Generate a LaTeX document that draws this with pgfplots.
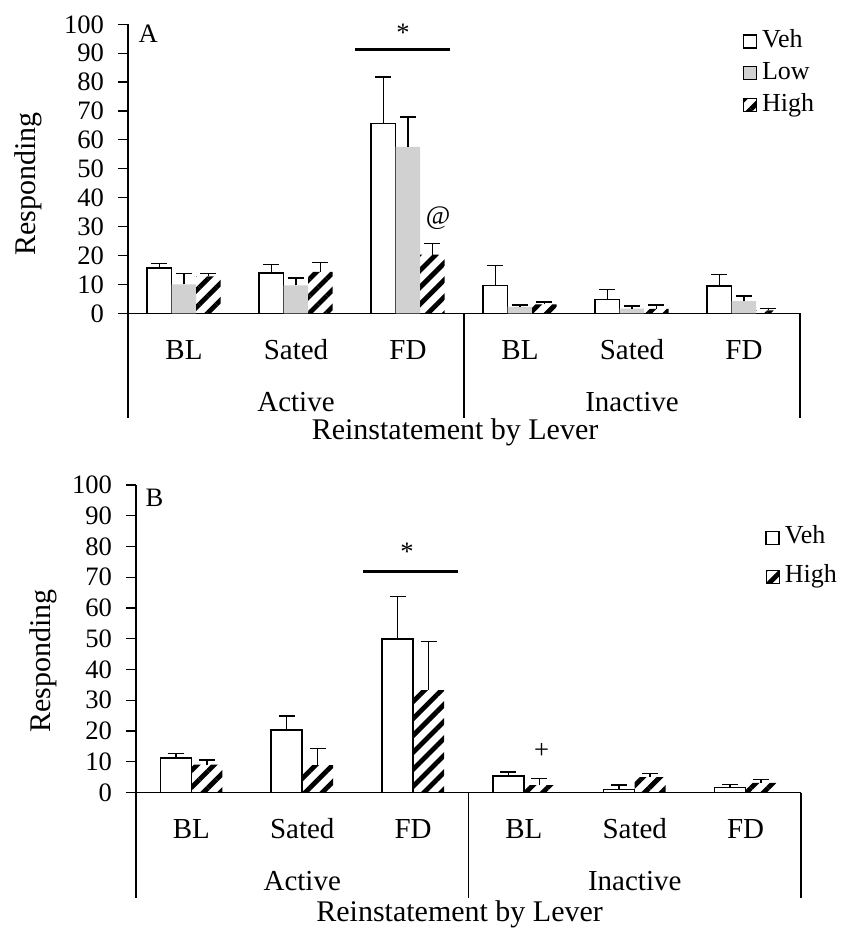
\documentclass[border=0pt]{standalone}
\usepackage{fontspec}
\setmainfont{Liberation Serif}
\usepackage{pgfplots}
\pgfplotsset{compat=1.18}
\usetikzlibrary{patterns.meta}

\definecolor{lowgray}{gray}{0.82}
\newcommand{\fTick}{\fontsize{13.3}{15.5}\selectfont}
\newcommand{\fLeg}{\fontsize{13}{15}\selectfont}
\newcommand{\fCat}{\fontsize{14.5}{17}\selectfont}
\newcommand{\fLab}{\fontsize{15}{18}\selectfont}

\pgfplotsset{
  panel/.style={
    scale only axis,
    axis lines*=left,
    xmin=-0.5, xmax=5.5, ymin=0, ymax=100,
    ytick={0,10,...,100},
    yticklabel={\fTick\pgfmathprintnumber{\tick}},
    xtick={0,...,5},
    xticklabels={BL,Sated,FD,BL,Sated,FD},
    xtick style={draw=none},
    ytick style={line width=0.6pt, black},
    tick align=outside,
    major tick length=5pt,
    axis line style={line width=0.6pt, black},
    yticklabel style={font=\fTick, xshift=-3.5pt},
    xticklabel style={font=\fCat, anchor=base, yshift=-18pt},
    /pgf/number format/assume math mode=true,
    clip=false,
    ybar=0pt,
    error bars/y dir=plus,
    error bars/y explicit,
    error bars/error bar style={line width=0.75pt, black},
    error bars/error mark options={rotate=90, mark size=4pt, line width=0.75pt, black},
    legend cell align=left,
    legend image code/.code={\draw[##1] (0pt,-3.25pt) rectangle (6.5pt,3.25pt);},
  },
  vehbar/.style={draw=black, fill=white, line width=0.75pt},
  lowbar/.style={draw=none, fill=lowgray},
  highbar/.style={draw=none, fill=white, pattern={Lines[angle=45,distance=6pt,line width=2.4pt]}, pattern color=black},
}

\begin{document}
\begin{tikzpicture}
\path[use as bounding box] (0,0) rectangle (420.5pt,464pt);

% ---------------- Panel A ----------------
\begin{axis}[panel,
  at={(64pt,307.35pt)}, anchor=south west,
  width=336pt, height=144.5pt,
  bar width=12.25pt,
  legend style={at={(0.914,0.991)}, anchor=north west, draw=none, fill=none,
    inner sep=0pt, font=\fLeg, row sep=2pt,
    nodes={inner ysep=1pt, inner xsep=2.5pt, text height=9pt, text depth=3pt}},
]
\addplot[vehbar] coordinates {
  (0,15.6) +- (0,1.7)
  (1,14.0) +- (0,2.9)
  (2,65.6) +- (0,16.2)
  (3,9.7)  +- (0,6.9)
  (4,4.7)  +- (0,3.5)
  (5,9.5)  +- (0,4.0)
};
\addlegendentry{Veh}
\addplot[lowbar] coordinates {
  (0,10.0) +- (0,3.8)
  (1,9.7)  +- (0,2.5)
  (2,57.6) +- (0,10.3)
  (3,2.2)  +- (0,0.6)
  (4,1.6)  +- (0,0.9)
  (5,4.2)  +- (0,1.7)
};
\addlegendentry{Low}
\addplot[highbar] coordinates {
  (0,12.8) +- (0,1.0)
  (1,14.3) +- (0,3.3)
  (2,20.3) +- (0,3.8)
  (3,3.1)  +- (0,0.8)
  (4,1.5)  +- (0,1.3)
  (5,1.0)  +- (0,0.6)
};
\addlegendentry{High}

\draw[line width=0.6pt] (axis cs:-0.5,0) -- ++(0pt,-52.5pt);
\draw[line width=0.6pt] (axis cs:2.5,0) -- ++(0pt,-52.5pt);
\draw[line width=0.6pt] (axis cs:5.5,0) -- ++(0pt,-52.5pt);
\node[anchor=base, font=\fCat] at ([yshift=-49.2pt]axis cs:1,0) {Active};
\node[anchor=base, font=\fCat] at ([yshift=-49.2pt]axis cs:4,0) {Inactive};
\node[anchor=base, font=\fLab] at ([yshift=-63.3pt]axis cs:2.42,0) {Reinstatement by Lever};
\node[rotate=90, font=\fLab] at ([xshift=-49.75pt]axis cs:-0.5,44.7) {Responding};
\node[font=\fTick] at (axis cs:-0.32,96.6) {A};
\draw[line width=1.5pt] (axis cs:1.527,91.3) -- (axis cs:2.375,91.3);
\node[font=\fTick] at (axis cs:1.955,97.2) {*};
\node[font=\fTick] at (axis cs:2.27,32.9) {@};
\end{axis}

% ---------------- Panel B ----------------
\begin{axis}[panel,
  at={(68pt,67.75pt)}, anchor=south west,
  width=332.5pt, height=153.75pt,
  bar width=15.5pt,
  legend style={at={(0.946,0.875)}, anchor=north west, draw=none, fill=none,
    inner sep=0pt, font=\fLeg, row sep=5.5pt,
    nodes={inner ysep=1pt, inner xsep=2.5pt, text height=9pt, text depth=3pt}},
]
\addplot[vehbar] coordinates {
  (0,11.3) +- (0,1.4)
  (1,20.3) +- (0,4.6)
  (2,49.9) +- (0,13.8)
  (3,5.4)  +- (0,1.3)
  (4,1.0)  +- (0,1.4)
  (5,1.6)  +- (0,1.0)
};
\addlegendentry{Veh}
\addplot[highbar] coordinates {
  (0,9.1)  +- (0,1.4)
  (1,8.9)  +- (0,5.4)
  (2,33.3) +- (0,15.8)
  (3,2.4)  +- (0,2.2)
  (4,5.0)  +- (0,1.2)
  (5,3.1)  +- (0,1.2)
};
\addlegendentry{High}

\draw[line width=0.6pt] (axis cs:-0.5,0) -- ++(0pt,-52.5pt);
\draw[line width=0.6pt] (axis cs:2.5,0) -- ++(0pt,-52.5pt);
\draw[line width=0.6pt] (axis cs:5.5,0) -- ++(0pt,-52.5pt);
\node[anchor=base, font=\fCat] at ([yshift=-49.2pt]axis cs:1,0) {Active};
\node[anchor=base, font=\fCat] at ([yshift=-49.2pt]axis cs:4,0) {Inactive};
\node[anchor=base, font=\fLab] at ([yshift=-64.5pt]axis cs:2.42,0) {Reinstatement by Lever};
\node[rotate=90, font=\fLab] at ([xshift=-46.5pt]axis cs:-0.5,42.8) {Responding};
\node[font=\fTick] at (axis cs:-0.333,95.8) {B};
\draw[line width=1.5pt] (axis cs:1.549,71.9) -- (axis cs:2.406,71.9);
\node[font=\fTick] at (axis cs:1.946,78.3) {*};
\node[font=\fTick] at (axis cs:3.16,13.5) {+};
\end{axis}
\end{tikzpicture}
\end{document}
